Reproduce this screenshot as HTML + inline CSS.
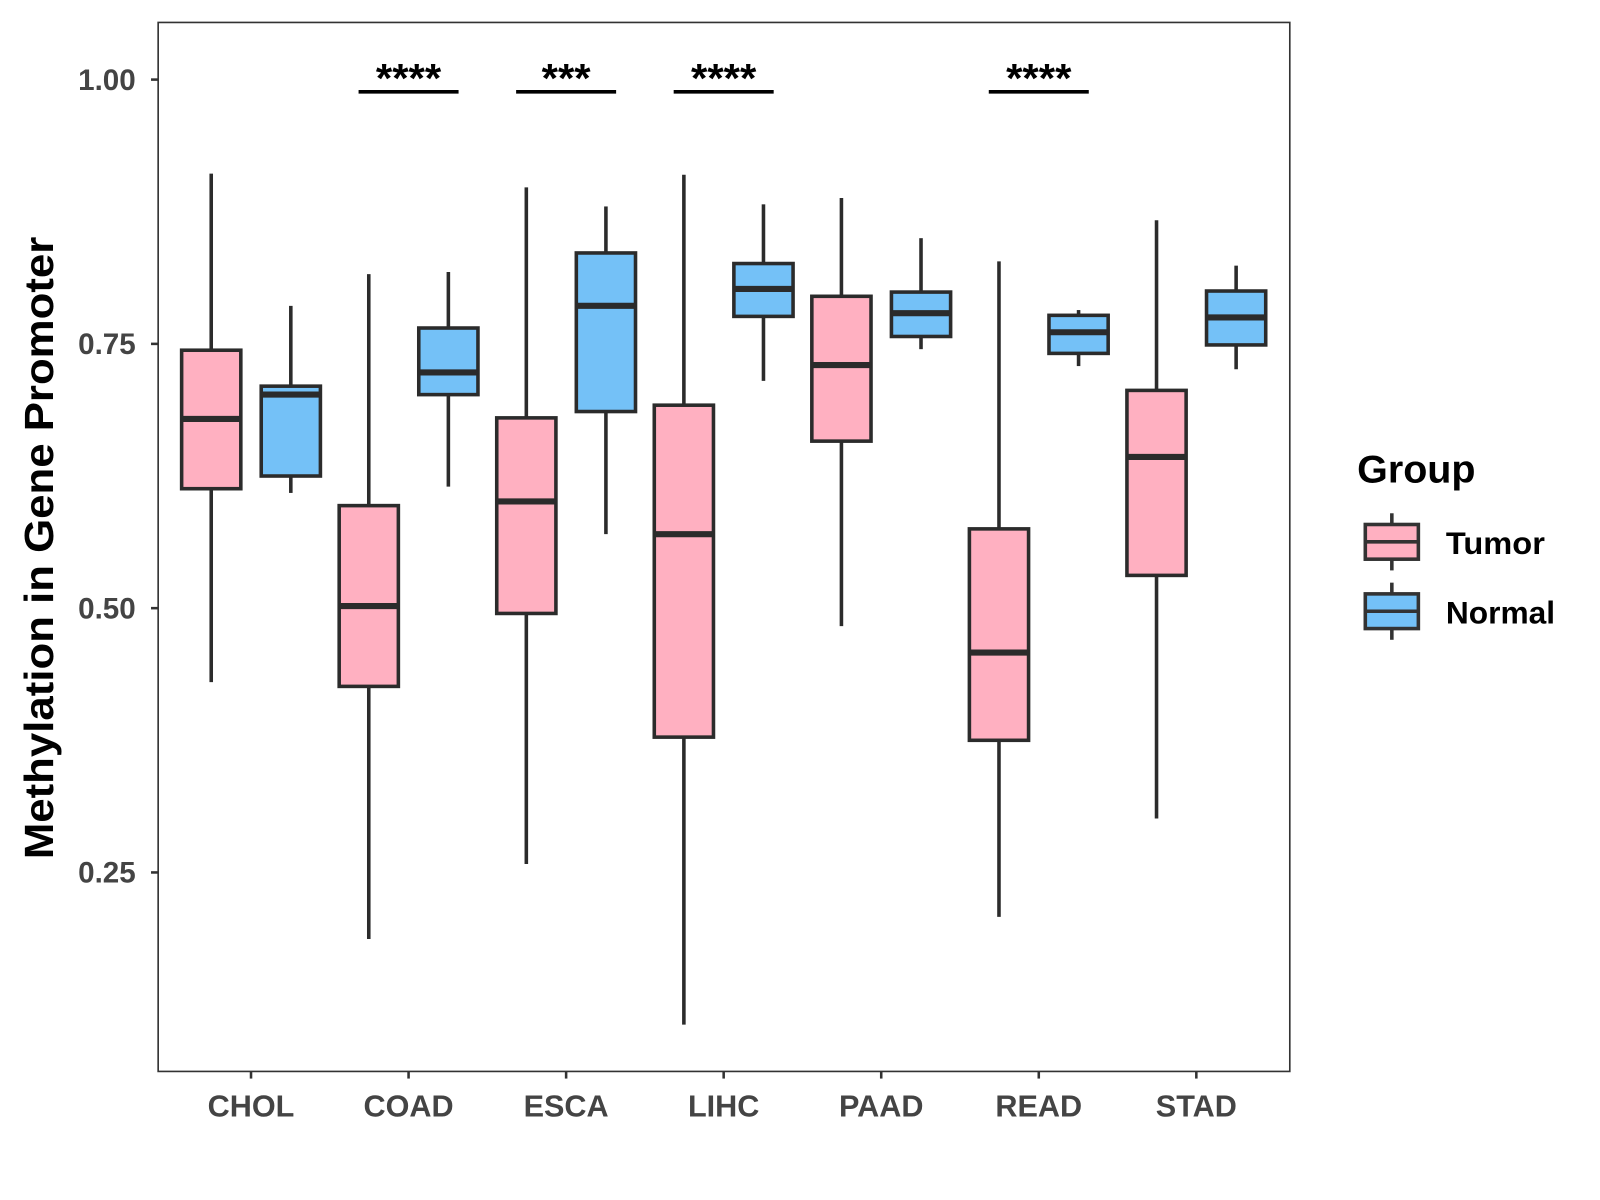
<!DOCTYPE html>
<html><head><meta charset="utf-8"><style>
html,body{margin:0;padding:0;background:#fff}
svg{display:block}
text{font-family:"Liberation Sans",Arial,sans-serif;font-weight:bold}
</style></head><body>
<svg id="chart" width="1600" height="1200" viewBox="0 0 1568 1176" xmlns="http://www.w3.org/2000/svg">
<rect x="0" y="0" width="1568" height="1176" fill="#fff"/>
<g id="plot"></g>
<rect x="155" y="22" width="1109" height="1028" fill="none" stroke="#333" stroke-width="1.6"/>
<text transform="translate(52,537) rotate(-90)" text-anchor="middle" font-size="40" textLength="610" lengthAdjust="spacingAndGlyphs" fill="#000">Methylation in Gene Promoter</text>
<g>
<text x="1330" y="473" font-size="38" textLength="116" lengthAdjust="spacingAndGlyphs" fill="#000">Group</text>
<g>
<line x1="1364" y1="503" x2="1364" y2="559" stroke="#333" stroke-width="3.5"/>
<rect x="1338" y="514" width="52" height="34" fill="#FFB0C1" stroke="#333" stroke-width="3.5"/>
<line x1="1338" y1="531" x2="1390" y2="531" stroke="#333" stroke-width="3.5"/>
<text x="1417" y="543" font-size="31" textLength="97" lengthAdjust="spacingAndGlyphs" fill="#000">Tumor</text>
</g>
<g>
<line x1="1364" y1="571" x2="1364" y2="627" stroke="#333" stroke-width="3.5"/>
<rect x="1338" y="582" width="52" height="34" fill="#74C1F7" stroke="#333" stroke-width="3.5"/>
<line x1="1338" y1="599" x2="1390" y2="599" stroke="#333" stroke-width="3.5"/>
<text x="1417" y="611" font-size="31" textLength="107" lengthAdjust="spacingAndGlyphs" fill="#000">Normal</text>
</g>
</g>
</svg>
<script>
const categories = ["CHOL","COAD","ESCA","LIHC","PAAD","READ","STAD"];
const tumorMin = [0.430,0.187,0.258,0.106,0.483,0.208,0.301];
const tumorQ1  = [0.613,0.426,0.495,0.378,0.658,0.375,0.531];
const tumorMed = [0.679,0.502,0.601,0.570,0.730,0.458,0.643];
const tumorQ3  = [0.744,0.597,0.680,0.692,0.795,0.575,0.706];
const tumorMax = [0.911,0.816,0.898,0.910,0.888,0.828,0.867];
const normalMin = [0.609,0.615,0.570,0.715,0.745,0.729,0.726];
const normalQ1  = [0.625,0.702,0.686,0.776,0.757,0.741,0.749];
const normalMed = [0.702,0.723,0.786,0.802,0.779,0.761,0.775];
const normalQ3  = [0.710,0.765,0.836,0.826,0.799,0.777,0.800];
const normalMax = [0.786,0.818,0.880,0.882,0.850,0.782,0.824];
const yTicks = [0.25,0.50,0.75,1.00];
const yTickLabels = ["0.25","0.50","0.75","1.00"];
const sigLabels = ["","****","***","****","","****",""];

const NS = "http://www.w3.org/2000/svg";
const g = document.getElementById("plot");
const y = v => 78 + (1 - v) * 1036;
const x = i => 246 + i * 154.4;
function el(tag, attrs, parent){
  const e = document.createElementNS(NS, tag);
  for (const k in attrs) e.setAttribute(k, attrs[k]);
  (parent||g).appendChild(e);
  return e;
}
yTicks.forEach((t,i)=>{
  const tk = el("line",{x1:148,x2:155,y1:y(t),y2:y(t),stroke:"#333","stroke-width":2.5});
  
  
  const lb = el("text",{x:133,y:y(t)+10,"text-anchor":"end","font-size":29,fill:"#444"});
  lb.textContent = yTickLabels[i];
  
  
});
function box(cx, mn, q1, md, q3, mx, fill, name){
  const grp = el("g",{});
  
  
  el("line",{x1:cx,x2:cx,y1:y(mx),y2:y(q3),stroke:"#2b2b2b","stroke-width":3.5},grp);
  el("line",{x1:cx,x2:cx,y1:y(q1),y2:y(mn),stroke:"#2b2b2b","stroke-width":3.5},grp);
  el("rect",{x:cx-29,y:y(q3),width:58,height:y(q1)-y(q3),fill:fill,stroke:"#2b2b2b","stroke-width":3.5},grp);
  el("line",{x1:cx-29,x2:cx+29,y1:y(md),y2:y(md),stroke:"#2b2b2b","stroke-width":6},grp);
}
categories.forEach((c,i)=>{
  const cx = x(i);
  box(cx-39, tumorMin[i], tumorQ1[i], tumorMed[i], tumorQ3[i], tumorMax[i], "#FFB0C1", "box-tumor-"+c.toLowerCase());
  box(cx+39, normalMin[i], normalQ1[i], normalMed[i], normalQ3[i], normalMax[i], "#74C1F7", "box-normal-"+c.toLowerCase());
  const tk = el("line",{x1:cx,x2:cx,y1:1050,y2:1057,stroke:"#333","stroke-width":2.5});
  
  
  const lb = el("text",{x:cx,y:1094,"text-anchor":"middle","font-size":30,fill:"#444"});
  lb.textContent = c;
  
  
  if (sigLabels[i]) {
    const b = el("line",{x1:cx-49,x2:cx+49,y1:90,y2:90,stroke:"#000","stroke-width":3.5});
    
    
    const s = el("text",{x:cx,y:90,"text-anchor":"middle","font-size":40,fill:"#000",textLength:sigLabels[i].length*16,lengthAdjust:"spacingAndGlyphs"});
    s.textContent = sigLabels[i];
    
    
  }
});
</script>
</body></html>
